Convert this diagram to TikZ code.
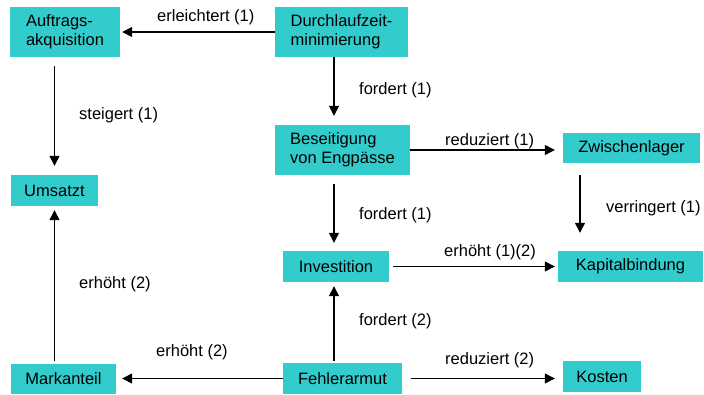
\documentclass[tikz,border=0pt]{standalone}
\usepackage{fontspec}
\setmainfont{Liberation Sans}
\usetikzlibrary{arrows.meta}
\definecolor{boxcyan}{RGB}{51,204,204}
\tikzset{every node/.style={font=\fontsize{16.5}{19}\selectfont},
box/.style={fill=boxcyan,inner sep=0pt,align=left},
lbl/.style={anchor=west,inner sep=0pt},
arr/.style={-{Triangle[length=10pt,width=10pt]},line width=1.3pt}}

\begin{document}
\begin{tikzpicture}[x=1pt,y=-1pt]
\useasboundingbox (0,0) rectangle (704,394);

%set of the boxes

\node[box,minimum width=110pt,minimum height=50pt] (auftrag) at (65,32) {Auftrags-\\akquisition};
\node[box,minimum width=133pt,minimum height=50pt] (durch) at (341.5,32) {Durchlaufzeit-\\minimierung};
\node[box,minimum width=135pt,minimum height=50pt] (besei) at (342.5,150) {Beseitigung\\von Engpässe};
\node[box,minimum width=137pt,minimum height=30pt] (zwisch) at (631.5,148) {Zwischenlager};
\node[box,minimum width=87pt,minimum height=31pt] (umsatz) at (54.5,190.5) {Umsatzt};
\node[box,minimum width=106pt,minimum height=31pt] (invest) at (336,266.5) {Investition};
\node[box,minimum width=145pt,minimum height=31pt] (kapital) at (630.5,266.5) {Kapitalbindung};
\node[box,minimum width=119pt,minimum height=31pt] (fehler) at (342.5,378.5) {Fehlerarmut};
\node[box,minimum width=78pt,minimum height=31pt] (kosten) at (602,376.5) {Kosten};
\node[box,minimum width=105pt,minimum height=30pt] (markt) at (63.5,379) {Markanteil};

%arrows

\draw[arr,shorten >=2pt] (durch.west) -- (durch.west -| auftrag.east);
\draw[arr,shorten <=9pt,shorten >=9pt] (auftrag.south -| umsatz) -- (umsatz.north);
\draw[arr,shorten >=9pt] (durch.south -| 334,0) -- (besei.north -| 334,0);
\draw[arr,shorten >=8pt] (besei.east) -- (besei.east -| zwisch.west);
\draw[arr,shorten <=9pt,shorten >=8pt] (besei.south -| 334,0) -- (invest.north -| 334,0);
\draw[arr,shorten <=12pt,shorten >=18pt] ([xshift=-51.5pt]zwisch.south) -- ([xshift=-51.5pt]zwisch.south |- kapital.north);
\draw[arr,shorten <=4pt,shorten >=3pt] (invest.east) -- (invest.east -| kapital.west);
\draw[arr,shorten <=2pt,shorten >=4pt] (fehler.north -| 334,0) -- (invest.south -| 334,0);
\draw[arr,shorten >=6pt] (fehler.west) -- (fehler.west -| markt.east);
\draw[arr,shorten <=9pt,shorten >=8pt] (fehler.east) -- (fehler.east -| kosten.west);
\draw[arr,shorten <=3pt,shorten >=4pt] (markt.north -| umsatz) -- (umsatz.south);

%labels

\node[lbl] (l1) at (157,17) {erleichtert (1)};
\node[lbl] (l2) at (359,90) {fordert (1)};
\node[lbl] (l3) at (79,115) {steigert (1)};
\node[lbl] (l4) at (445,141) {reduziert (1)};
\node[lbl] (l5) at (359,215) {fordert (1)};
\node[lbl] (l6) at (606,208) {verringert (1)};
\node[lbl] (l7) at (444,252) {erhöht (1)(2)};
\node[lbl] (l8) at (79,284) {erhöht (2)};
\node[lbl] (l9) at (359,321) {fordert (2)};
\node[lbl] (l10) at (156,352) {erhöht (2)};
\node[lbl] (l11) at (445,360) {reduziert (2)};
\end{tikzpicture}
\end{document}
